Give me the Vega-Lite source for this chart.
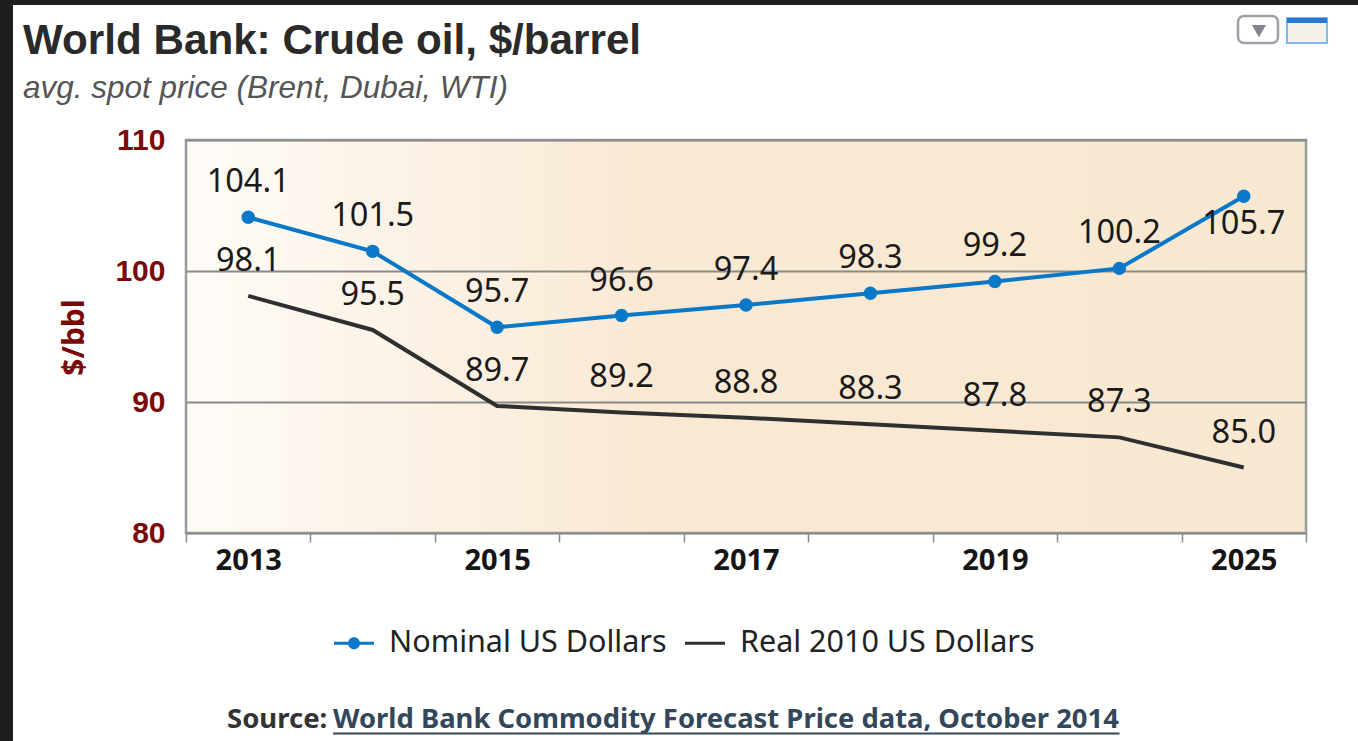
{
"$schema":"https://vega.github.io/schema/vega-lite/v6.json",
"autosize":{"type":"none"},
"padding":{"left":186,"top":140,"right":52,"bottom":208},
"width":1120,"height":393,
"background":"#ffffff",
"view":{"stroke":"#9a9a9a","strokeWidth":2.5,"fill":{"gradient":"linear","x1":0,"y1":0,"x2":1,"y2":0,"stops":[{"offset":0,"color":"#fefbf7"},{"offset":0.42,"color":"#f9e9d3"},{"offset":1,"color":"#f9e8d1"}]}},
"title":{"text":"World Bank: Crude oil, $/barrel","subtitle":"avg. spot price (Brent, Dubai, WTI)","anchor":"start","frame":"group","dx":-163,"dy":111,"offset":0,"font":"Liberation Sans","fontSize":42.2,"fontWeight":"bold","color":"#2a2a2a","subtitleFont":"Liberation Sans","subtitleFontSize":31.5,"subtitleFontStyle":"italic","subtitleColor":"#555555","subtitlePadding":10},
"datasets":{
"prices":[
{"year":"2013","series":"Nominal US Dollars","value":104.1},
{"year":"2014","series":"Nominal US Dollars","value":101.5},
{"year":"2015","series":"Nominal US Dollars","value":95.7},
{"year":"2016","series":"Nominal US Dollars","value":96.6},
{"year":"2017","series":"Nominal US Dollars","value":97.4},
{"year":"2018","series":"Nominal US Dollars","value":98.3},
{"year":"2019","series":"Nominal US Dollars","value":99.2},
{"year":"2020","series":"Nominal US Dollars","value":100.2},
{"year":"2025","series":"Nominal US Dollars","value":105.7},
{"year":"2013","series":"Real 2010 US Dollars","value":98.1},
{"year":"2014","series":"Real 2010 US Dollars","value":95.5},
{"year":"2015","series":"Real 2010 US Dollars","value":89.7},
{"year":"2016","series":"Real 2010 US Dollars","value":89.2},
{"year":"2017","series":"Real 2010 US Dollars","value":88.8},
{"year":"2018","series":"Real 2010 US Dollars","value":88.3},
{"year":"2019","series":"Real 2010 US Dollars","value":87.8},
{"year":"2020","series":"Real 2010 US Dollars","value":87.3},
{"year":"2025","series":"Real 2010 US Dollars","value":85.0}
],
"furniture":[
{"part":"frame","x0":-0.1705,"x1":-0.1545,"y0":63.7,"y1":121.1},
{"part":"frame","x0":-0.1705,"x1":1.051,"y0":120.3,"y1":121.1},
{"part":"button","x0":0.9393,"x1":0.975,"y0":117.4,"y1":119.47},
{"part":"arrow","x0":0.958,"y0":118.32},
{"part":"window","x0":0.983,"x1":1.0188,"y0":117.4,"y1":119.31},
{"part":"bar","x0":0.983,"x1":1.0188,"y0":118.93,"y1":119.31},
{"part":"underline","x0":0.1313,"x1":0.8335,"y0":64.7,"y1":64.7},
{"part":"source","label":"Source:","x0":0.0366,"y0":65.12},
{"part":"link","label":"World Bank Commodity Forecast Price data, October 2014","x0":0.1313,"y0":65.12}
]},
"resolve":{"scale":{"x":"independent"},"axis":{"x":"independent"}},
"layer":[
{"data":{"name":"prices"},
"encoding":{
"x":{"field":"year","type":"ordinal","sort":null,"scale":{"type":"band","paddingInner":0,"paddingOuter":0},
"axis":{"title":null,"labelAngle":0,"labelFont":"Noto Sans","labelFontSize":29,"labelFontWeight":"bold","labelColor":"#151515","labelPadding":4,"labelExpr":"indexof(['2013','2015','2017','2019','2025'],datum.value)>=0?datum.value:''","tickBand":"extent","tickSize":9,"tickColor":"#8a8a8a","tickWidth":1.5,"domain":false,"grid":false,"labelOverlap":false}},
"y":{"field":"value","type":"quantitative","scale":{"domain":[80,110],"nice":false,"zero":false},
"axis":{"title":"$/bbl","titleX":-97,"titleY":197,"titleAngle":-90,"titleFont":"Noto Sans","titleFontSize":30,"titleFontWeight":"bold","titleColor":"#7a0a0a","values":[80,90,100,110],"labelFont":"Liberation Sans","labelFontSize":30,"labelFontWeight":"bold","labelColor":"#7a0a0a","labelPadding":21,"ticks":false,"domain":false,"grid":true,"gridColor":"#8a8a8a","gridWidth":2}}
},
"layer":[
{"transform":[{"filter":"datum.series=='Nominal US Dollars'"}],"mark":{"type":"line","strokeWidth":4,"color":"#0a78c8"}},
{"transform":[{"filter":"datum.series=='Real 2010 US Dollars'"}],"mark":{"type":"line","strokeWidth":4,"color":"#2f2f2f"}},
{"transform":[{"filter":"datum.series=='Nominal US Dollars'"}],"mark":{"type":"point","filled":true,"size":180,"opacity":1,"color":"#0a78c8"}},
{"transform":[{"filter":"false"}],"mark":{"type":"point","filled":true,"opacity":1},"encoding":{"color":{"field":"series","type":"nominal","scale":{"domain":["Nominal US Dollars","Real 2010 US Dollars"],"range":["#0a78c8","#2f2f2f"]},"legend":{"title":null,"orient":"none","legendX":148,"legendY":483,"direction":"horizontal","columns":2,"symbolSize":1600,"symbolStrokeWidth":0,"labelFont":"Noto Sans","labelFontSize":30.5,"labelColor":"#222222","labelOffset":15,"columnPadding":18,"labelLimit":400}},"shape":{"field":"series","type":"nominal","legend":{"title":null},"scale":{"domain":["Nominal US Dollars","Real 2010 US Dollars"],"range":["M-1,-0.07H1V0.07H-1Z M-0.3,0A0.3,0.3 0 1 1 0.3,0A0.3,0.3 0 1 1 -0.3,0Z","M-1,-0.07H1V0.07H-1Z"]}}}},
{"transform":[{"filter":"datum.value!=105.7"}],"mark":{"type":"text","font":"Noto Sans","fontSize":32.5,"color":"#1a1a1a","dy":-35},"encoding":{"text":{"field":"value","type":"quantitative","format":".1f"}}},
{"transform":[{"filter":"datum.value==105.7"}],"mark":{"type":"text","font":"Noto Sans","fontSize":32.5,"color":"#1a1a1a","dy":28},"encoding":{"text":{"field":"value","type":"quantitative","format":".1f"}}}
]},
{"data":{"name":"furniture"},
"encoding":{
"x":{"field":"x0","type":"quantitative","scale":{"domain":[0,1],"nice":false,"zero":false},"axis":null},
"y":{"field":"y0","type":"quantitative"}
},
"layer":[
{"transform":[{"filter":"datum.part=='frame'"}],"mark":{"type":"rect","color":"#1e1e1e"},"encoding":{"x2":{"field":"x1"},"y2":{"field":"y1"}}},
{"transform":[{"filter":"datum.part=='button'"}],"mark":{"type":"rect","fill":"#ffffff","stroke":"#a0a0a8","strokeWidth":2.5,"cornerRadius":6},"encoding":{"x2":{"field":"x1"},"y2":{"field":"y1"}}},
{"transform":[{"filter":"datum.part=='arrow'"}],"mark":{"type":"point","shape":"triangle-down","filled":true,"size":200,"color":"#85858f","opacity":1}},
{"transform":[{"filter":"datum.part=='window'"}],"mark":{"type":"rect","fill":"#f6f1e8","stroke":"#7db8f0","strokeWidth":2},"encoding":{"x2":{"field":"x1"},"y2":{"field":"y1"}}},
{"transform":[{"filter":"datum.part=='bar'"}],"mark":{"type":"rect","color":"#2a7ad5"},"encoding":{"x2":{"field":"x1"},"y2":{"field":"y1"}}},
{"transform":[{"filter":"datum.part=='underline'"}],"mark":{"type":"rule","color":"#33475b","strokeWidth":2},"encoding":{"x2":{"field":"x1"}}},
{"transform":[{"filter":"datum.part=='source'"}],"mark":{"type":"text","align":"left","baseline":"alphabetic","font":"Noto Sans","fontSize":27.5,"fontWeight":"bold","color":"#333333"},"encoding":{"text":{"field":"label"}}},
{"transform":[{"filter":"datum.part=='link'"}],"mark":{"type":"text","align":"left","baseline":"alphabetic","font":"Noto Sans","fontSize":27.4,"fontWeight":"bold","color":"#33475b"},"encoding":{"text":{"field":"label"}}}
]}
]
}
